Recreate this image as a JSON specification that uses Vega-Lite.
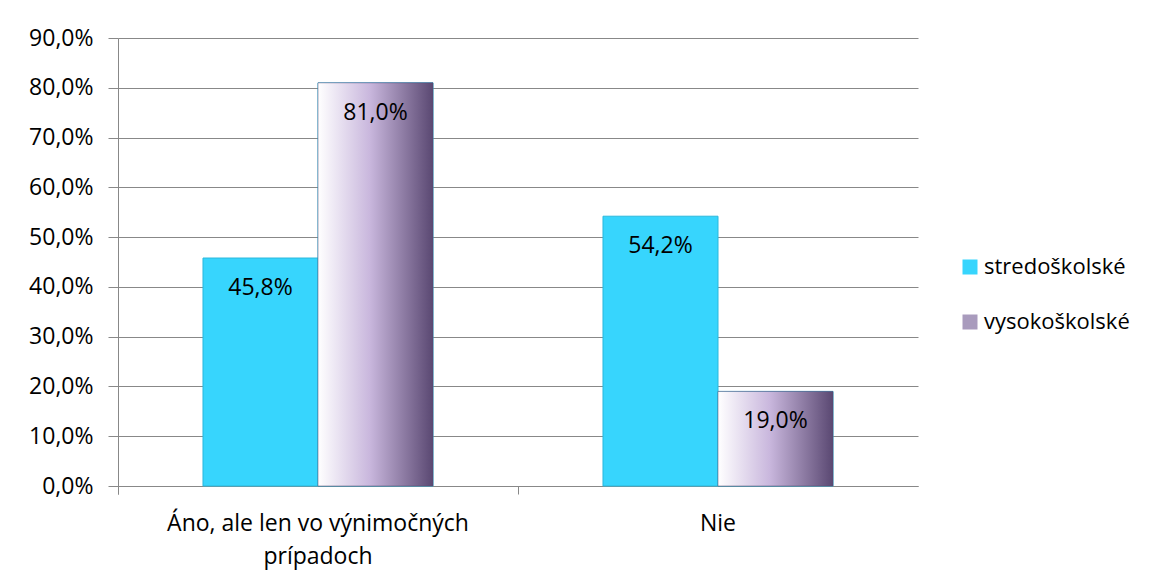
{
  "$schema": "https://vega.github.io/schema/vega-lite/v6.json",
  "width": 800,
  "height": 448,
  "autosize": {"type": "none"},
  "padding": {"left": 118, "top": 38, "right": 241, "bottom": 91},
  "background": "white",
  "config": {
    "locale": {"number": {"decimal": ",", "thousands": " ", "grouping": [3], "currency": ["", " €"]}},
    "font": "Open Sans",
    "view": {"stroke": null}
  },
  "data": {
    "values": [
      {"odpoved": "Áno, ale len vo výnimočných prípadoch", "vzdelanie": "stredoškolské", "hodnota": 0.458},
      {"odpoved": "Áno, ale len vo výnimočných prípadoch", "vzdelanie": "vysokoškolské", "hodnota": 0.81},
      {"odpoved": "Nie", "vzdelanie": "stredoškolské", "hodnota": 0.542},
      {"odpoved": "Nie", "vzdelanie": "vysokoškolské", "hodnota": 0.19}
    ]
  },
  "encoding": {
    "x": {
      "field": "odpoved", "type": "nominal", "sort": null,
      "scale": {"paddingInner": 0, "paddingOuter": 0},
      "axis": {
        "title": null, "labelAngle": 0, "labelFontSize": 23, "labelColor": "#000", "labelFont": "Open Sans",
        "labelExpr": "datum.label == 'Áno, ale len vo výnimočných prípadoch' ? ['Áno, ale len vo výnimočných', 'prípadoch'] : datum.label",
        "labelPadding": 18, "labelLineHeight": 33, "labelLimit": 0, "labelOverlap": false, "labelBaseline": "top",
        "bandPosition": 0, "ticks": true, "tickSize": 8, "tickColor": "#888", "domainColor": "#888", "tickExtra": true, "grid": false
      }
    },
    "xOffset": {"field": "vzdelanie", "type": "nominal", "scale": {"paddingOuter": 0.739, "paddingInner": 0}},
    "y": {
      "field": "hodnota", "type": "quantitative",
      "scale": {"domain": [0, 0.9], "nice": false},
      "axis": {
        "title": null, "format": ".1%", "values": [0,0.1,0.2,0.3,0.4,0.5,0.6,0.7,0.8,0.9],
        "labelFontSize": 23, "labelColor": "#000", "labelPadding": 15, "tickSize": 10, "tickColor": "#888",
        "labelOverlap": false, "labelBound": false, "labelFlush": false,
        "domainColor": "#888", "gridColor": "#888", "grid": true, "labelFont": "Open Sans"
      }
    }
  },
  "layer": [
    {
      "mark": {"type": "bar", "stroke": "#2bb8dc", "strokeWidth": 1},
      "encoding": {
        "color": {
          "field": "vzdelanie", "type": "nominal",
          "scale": {"domain": ["stredoškolské", "vysokoškolské"], "range": ["#37d5fd", "#a99bbd"]},
          "legend": {
            "title": null, "orient": "none", "legendX": 841, "legendY": 218,
            "labelFontSize": 22, "labelColor": "#000", "labelFont": "Open Sans",
            "symbolType": "square", "symbolSize": 225, "symbolStrokeWidth": 0, "rowPadding": 33, "labelOffset": 3
          }
        }
      }
    },
    {
      "transform": [{"filter": "datum.vzdelanie == 'vysokoškolské'"}],
      "mark": {
        "type": "bar",
        "stroke": "#5b4873", "strokeWidth": 0.5,
        "fill": {"gradient": "linear", "x1": 0, "x2": 1, "y1": 0, "y2": 0,
          "stops": [{"offset": 0, "color": "#ffffff"}, {"offset": 0.45, "color": "#c9b7dd"}, {"offset": 1, "color": "#5a4872"}]}
      }
    },
    {
      "mark": {"type": "text", "baseline": "middle", "align": "center", "dy": 30, "fontSize": 23, "color": "#000", "font": "Open Sans"},
      "encoding": {"text": {"field": "hodnota", "type": "quantitative", "format": ".1%"}}
    }
  ]
}
